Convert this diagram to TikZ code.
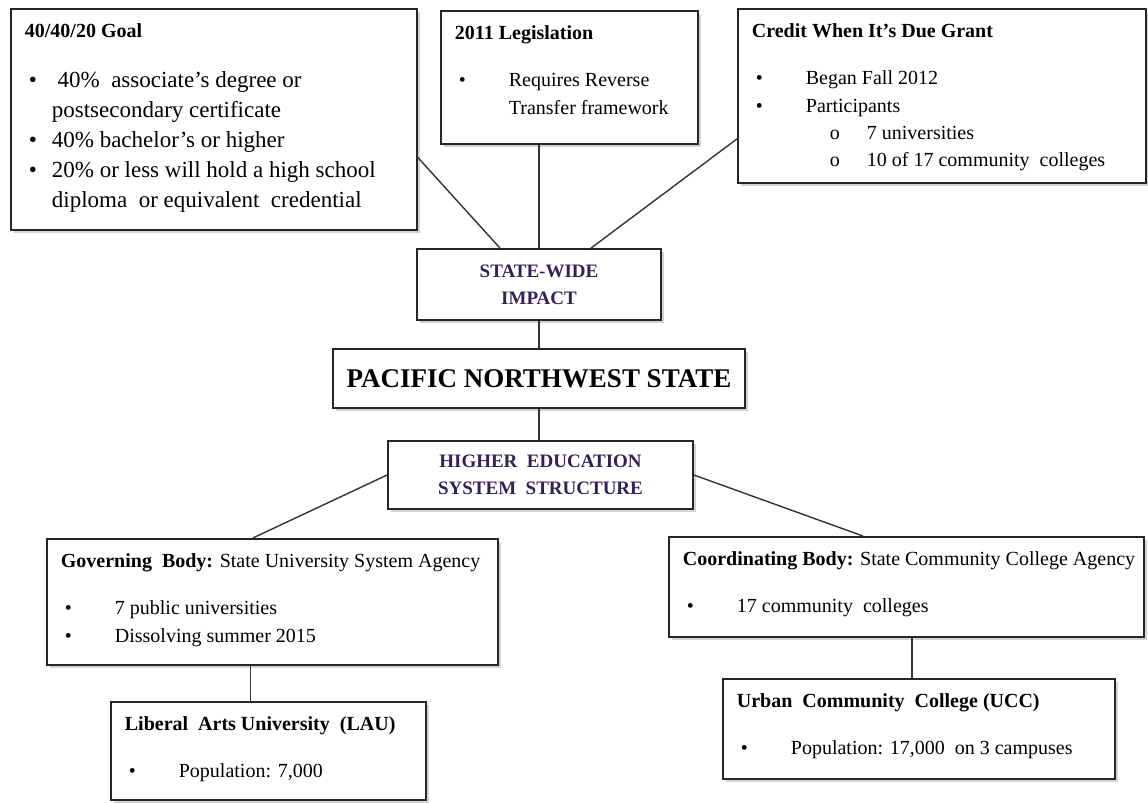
\documentclass[tikz,border=0pt]{standalone}
\usepackage{fontspec}
\setmainfont{Liberation Serif}
\usetikzlibrary{shadows}

\definecolor{headpurple}{RGB}{50,34,86}

\newcommand{\boxtitle}[1]{\vspace*{7.5pt}\mbox{#1}\par\vspace{10pt}}
\newcommand{\bitem}[2][27pt]{\par\noindent\hangindent=#1\hangafter=1\hspace*{2pt}\makebox[\dimexpr#1-2pt\relax][l]{\textbullet}#2}
\newcommand{\sitem}[1]{\par\noindent\hangindent=57.5pt\hangafter=1\hspace*{39pt}\makebox[18.5pt][l]{o}#1}

\begin{document}
\begin{tikzpicture}[x=0.5pt,y=-0.5pt,
    infobox/.style={draw=black!85, line width=0.9pt, fill=white, anchor=north west,
      inner xsep=7pt, inner ysep=0pt,
      drop shadow={shadow xshift=1.5pt, shadow yshift=-1.5pt, opacity=0.35},
      font=\fontsize{10}{13.6}\selectfont},
    hubbox/.style={draw=black!85, line width=0.9pt, fill=white, align=center,
      inner sep=0pt,
      drop shadow={shadow xshift=1.5pt, shadow yshift=-1.5pt, opacity=0.35},
      text=headpurple, font=\bfseries\fontsize{9.5}{13.5}\selectfont},
    link/.style={line width=0.7pt, black!80}]

  \useasboundingbox (0,0) rectangle (1148,803);

  % top row
  \node[infobox] (goal) at (10,8) {\parbox[t][110.5pt][t]{189pt}{%
      \boxtitle{\textbf{40/40/20 Goal}}
      \fontsize{11.5}{15}\selectfont
      \bitem[13.5pt]{\ 40\%\ \ associate’s degree or\newline postsecondary certificate}
      \bitem[13.5pt]{40\% bachelor’s or higher}
      \bitem[13.5pt]{20\% or less will hold a high school\newline diploma\ \ or equivalent\ \ credential}}};
  \node[infobox] (law) at (440,10) {\parbox[t][66.5pt][t]{114.5pt}{%
      \boxtitle{\textbf{2011 Legislation}}
      \bitem{Requires Reverse\newline Transfer framework}}};
  \node[infobox] (grant) at (737,8) {\parbox[t][87pt][t]{190pt}{%
      \boxtitle{\textbf{Credit When It’s Due Grant}}
      \bitem{Began Fall 2012}
      \bitem{Participants}
      \sitem{7 universities}
      \sitem{10 of 17 community\ \ colleges}}};

  % centre column
  \node[hubbox, minimum width=122pt, minimum height=35.5pt] (impact) at (539,284.5)
    {STATE-WIDE\\IMPACT};
  \node[hubbox, text=black, minimum width=206pt, minimum height=29.5pt,
    font=\bfseries\fontsize{13.5}{16}\selectfont] (pnw) at (539,378.5)
    {PACIFIC NORTHWEST STATE};
  \node[hubbox, minimum width=152.5pt, minimum height=34pt] (hes) at (540.5,475)
    {HIGHER\ \ EDUCATION\\SYSTEM\ \ STRUCTURE};

  % bottom rows
  \node[infobox] (gov) at (46,538) {\parbox[t][63pt][t]{211.5pt}{%
      \boxtitle{\textbf{Governing\ \ Body:} State University System Agency}
      \bitem{7 public universities}
      \bitem{Dissolving summer 2015}}};
  \node[infobox] (coord) at (668,536) {\parbox[t][50pt][t]{223.5pt}{%
      \boxtitle{\textbf{Coordinating Body:} State Community College Agency}
      \bitem{17 community\ \ colleges}}};
  \node[infobox] (lau) at (110,701) {\parbox[t][49pt][t]{143.5pt}{%
      \boxtitle{\textbf{Liberal\ \ Arts University\ \ (LAU)}}
      \bitem{Population: 7,000}}};
  \node[infobox] (ucc) at (722,678) {\parbox[t][50pt][t]{182pt}{%
      \boxtitle{\textbf{Urban\ \ Community\ \ College (UCC)}}
      \bitem{Population: 17,000\ \ on 3 campuses}}};

  % connectors
  \draw[link] ([yshift=-19pt]goal.east) -- ([xshift=-19.5pt]impact.north);
  \draw[link] (law.south -| impact.north) -- (impact.north);
  \draw[link] ([yshift=-21.5pt]grant.west) -- ([xshift=26pt]impact.north);
  \draw[link] (impact.south) -- (pnw.north);
  \draw[link] (pnw.south) -- (pnw.south |- hes.north);
  \draw[link] (hes.west) -- ([xshift=-9.75pt]gov.north);
  \draw[link] (hes.east) -- ([xshift=-21.75pt]coord.north);
  \draw[link] ([xshift=-11pt]gov.south) -- ([xshift=-11pt]gov.south |- lau.north);
  \draw[link] ([xshift=2.75pt]coord.south) -- ([xshift=2.75pt]coord.south |- ucc.north);
\end{tikzpicture}
\end{document}
